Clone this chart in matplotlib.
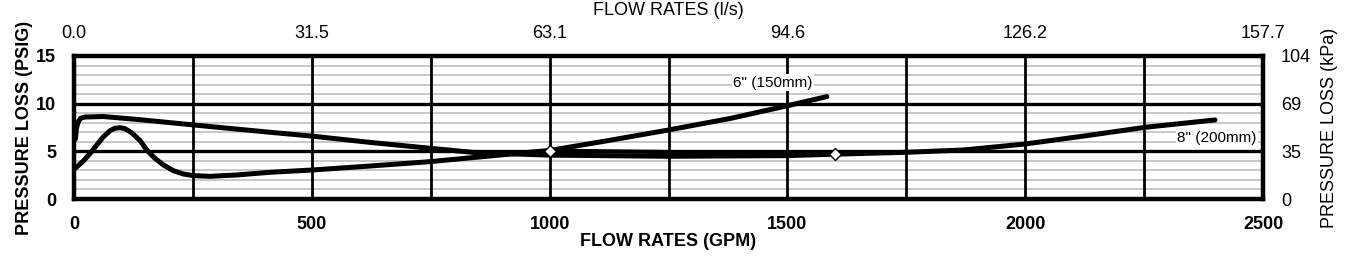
import matplotlib
matplotlib.use("Agg")
import matplotlib.pyplot as plt
from matplotlib.ticker import MultipleLocator

plt.rcParams['font.family'] = ['Liberation Sans', 'DejaVu Sans']

# 6" (150mm) curve (GPM, PSIG)
gpm_6in = [2, 20, 34, 48, 62, 76, 86, 97, 107, 121, 139, 153, 170, 188, 209, 230,
           251, 286, 342, 412, 500, 620, 749, 882, 1001, 1120, 1250, 1380, 1498, 1583]
psi_6in = [3.2, 4.0, 4.79, 5.67, 6.54, 7.17, 7.42, 7.48, 7.38, 6.96, 6.12, 5.14, 4.27,
           3.57, 2.97, 2.62, 2.45, 2.38, 2.52, 2.8, 3.04, 3.45, 3.92, 4.55, 5.1, 6.1,
           7.24, 8.45, 9.76, 10.74]

# 8" (200mm) curve
gpm_8in = [3, 5, 9, 14, 23, 62, 132, 251, 412, 500, 620, 749, 847, 1001, 1250, 1500,
           1600, 1751, 1870, 2000, 2130, 2252, 2399]
psi_8in = [6.3, 7.4, 8.1, 8.47, 8.6, 8.65, 8.35, 7.77, 7.0, 6.6, 5.95, 5.32, 4.85,
           4.6, 4.48, 4.55, 4.7, 4.9, 5.14, 5.77, 6.65, 7.52, 8.29]

# the two marked points and the line between them
mark_gpm = [1000, 1600]
mark_psi = [5.07, 4.72]

bottom_ticks = [0, 500, 1000, 1500, 2000, 2500]
top_labels = ['0.0', '31.5', '63.1', '94.6', '126.2', '157.7']
left_ticks = [0, 5, 10, 15]
right_labels = ['0', '35', '69', '104']

fig = plt.figure(figsize=(13.5, 2.64), dpi=100)
ax = fig.add_axes([74/1350, 1 - 199/264, (1263 - 74)/1350, (199 - 56)/264])

ax.set_xlim(0, 2500)
ax.set_ylim(0, 15)
ax.set_xticks(bottom_ticks)
ax.set_yticks(left_ticks)

# grey lines every 1 psi, black grid every 250 gpm and 5 psi on top of them
ax.yaxis.set_minor_locator(MultipleLocator(1))
ax.grid(True, which='minor', axis='y', color='#c4c4c4', lw=1.3)
ax.set_axisbelow(True)
for g in range(250, 2500, 250):
    ax.axvline(g, color='black', lw=2.0, zorder=1)
for p in left_ticks[1:-1]:
    ax.axhline(p, color='black', lw=2.4, zorder=1)

ax.tick_params(which='both', length=0)
ax.tick_params(axis='x', pad=12, labelsize=13)
ax.tick_params(axis='y', pad=13, labelsize=13)
for lab in ax.get_xticklabels() + ax.get_yticklabels():
    lab.set_fontweight('bold')
for sp in ax.spines.values():
    sp.set_linewidth(3.2)
    sp.set_zorder(3)

ax.plot(gpm_6in, psi_6in, color='black', lw=3.6, solid_capstyle='round',
        solid_joinstyle='round', zorder=2)
ax.plot(gpm_8in, psi_8in, color='black', lw=3.6, solid_capstyle='round',
        solid_joinstyle='round', zorder=2)
ax.plot(mark_gpm, mark_psi, color='black', lw=3.0, zorder=2)
ax.plot(mark_gpm, mark_psi, ls='none', marker='D', ms=6.5, mfc='white', mec='black',
        mew=1.0, zorder=4)

ax.text(1470, 12.2, '6" (150mm)', fontsize=11, ha='center', va='center', zorder=3,
        bbox=dict(facecolor='white', edgecolor='none', pad=1))
ax.text(2403, 6.37, '8" (200mm)', fontsize=11, ha='center', va='center', zorder=3,
        bbox=dict(facecolor='white', edgecolor='none', pad=1))

ax.set_xlabel('FLOW RATES (GPM)', fontsize=13, fontweight='bold', labelpad=0)
ax.set_ylabel('PRESSURE LOSS (PSIG)', fontsize=13, fontweight='bold', labelpad=2)

# top axis in l/s
top = ax.twiny()
top.set_xlim(ax.get_xlim())
top.set_xticks(bottom_ticks)
top.set_xticklabels(top_labels)
top.tick_params(length=0, pad=10, labelsize=13)
top.set_xlabel('FLOW RATES (l/s)', fontsize=13, labelpad=7)

# right axis in kPa
right = ax.twinx()
right.set_ylim(ax.get_ylim())
right.set_yticks(left_ticks)
right.set_yticklabels(right_labels)
right.tick_params(length=0, pad=13, labelsize=13)
right.set_ylabel('PRESSURE LOSS (kPa)', fontsize=13, labelpad=7)

for t in (top, right):
    for sp in t.spines.values():
        sp.set_visible(False)

fig.savefig('out.png', dpi=100)
